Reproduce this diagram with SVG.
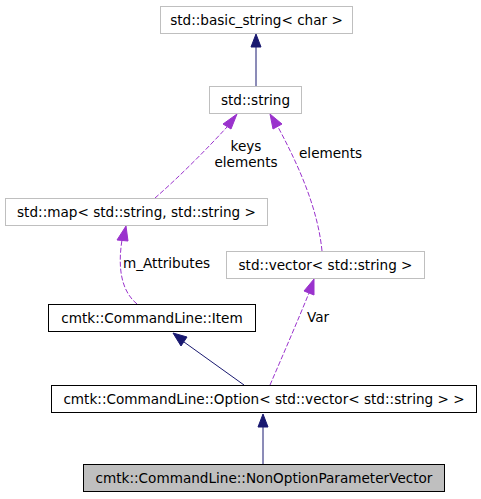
<svg xmlns="http://www.w3.org/2000/svg" width="481" height="499" viewBox="0 0 481 499">
<style>
.n rect{fill:#fff;stroke:#bfbfbf;stroke-width:1}
.n.b rect{stroke:#000}
.n.g rect{fill:#bfbfbf;stroke:#000}
text{font-family:"DejaVu Sans",sans-serif;font-size:13.6px;fill:#000}
.n text{text-anchor:middle}
.e{fill:none;stroke-width:1}
.inh{stroke:#191970}
.use{stroke:#9a32cd;stroke-dasharray:5,2}
.ah{fill:#191970;stroke:#191970}
.ap{fill:#9a32cd;stroke:#9a32cd}
</style>
<rect width="481" height="499" fill="#fff"/>
<g id="edges">
<path class="e inh" d="M256,86 L256,47"/>
<polygon class="ah" points="251,47 256,34 261,47"/>
<path class="e use" d="M155,198 C178,178 206,150 227,127"/>
<polygon class="ap" points="223,124 237,114 231,129"/>
<path class="e use" d="M322,251 C318,210 300,168 278,127"/>
<polygon class="ap" points="273,129 270,114 282,124"/>
<path class="e use" d="M137,304 C120,290 118,265 122,240"/>
<polygon class="ap" points="117,240 126,226 128,241"/>
<path class="e inh" d="M244,385 L184,342"/>
<polygon class="ah" points="181,346 173,333 187,337"/>
<path class="e use" d="M270,385 C283,355 298,320 309,293"/>
<polygon class="ap" points="304,291 314,279 314,295"/>
<path class="e inh" d="M263,464 L263,427"/>
<polygon class="ah" points="258,427 263,414 268,427"/>
<text x="246" y="151" text-anchor="middle">keys</text>
<text x="246" y="167" text-anchor="middle">elements</text>
<text x="299" y="158">elements</text>
<text x="123" y="268">m_Attributes</text>
<text x="307" y="322">Var</text>
</g>
<g id="basic_string" class="n"><rect x="160.5" y="6.5" width="192" height="27"/><text x="256.5" y="24.5">std::basic_string&lt; char &gt;</text></g>
<g id="string" class="n"><rect x="209.5" y="86.5" width="92" height="27"/><text x="255.5" y="104.5">std::string</text></g>
<g id="map" class="n"><rect x="5.5" y="198.5" width="262" height="27"/><text x="136.5" y="216.5">std::map&lt; std::string, std::string &gt;</text></g>
<g id="vector" class="n"><rect x="226.5" y="251.5" width="198" height="27"/><text x="325.5" y="269.5">std::vector&lt; std::string &gt;</text></g>
<g id="item" class="n b"><rect x="48.5" y="304.5" width="207" height="27"/><text x="152" y="322.5">cmtk::CommandLine::Item</text></g>
<g id="option" class="n b"><rect x="51.5" y="385.5" width="425" height="27"/><text x="264" y="403.5">cmtk::CommandLine::Option&lt; std::vector&lt; std::string &gt; &gt;</text></g>
<g id="nonoption" class="n g"><rect x="83.5" y="464.5" width="361" height="27"/><text x="264" y="482.5">cmtk::CommandLine::NonOptionParameterVector</text></g>
</svg>
